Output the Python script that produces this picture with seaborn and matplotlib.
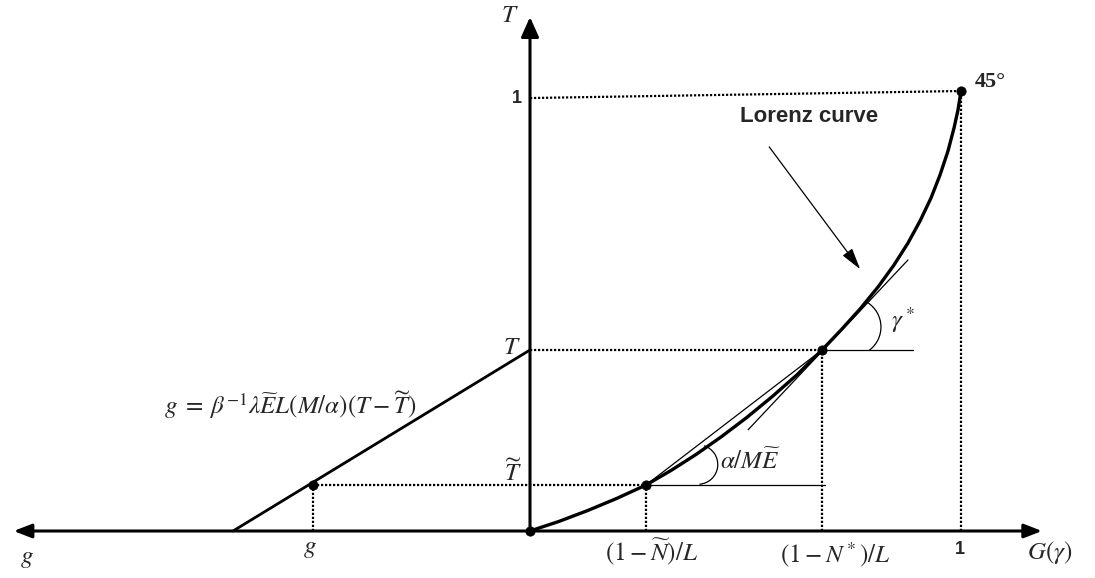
import matplotlib
matplotlib.use("Agg")
import matplotlib.pyplot as plt
import seaborn as sns
import pandas as pd
from matplotlib.patches import Arc

# ---------------- data ----------------
lorenz_G = [0.0, 0.0673, 0.1346, 0.2019, 0.2691, 0.3274, 0.3858, 0.4441, 0.5026,
            0.5608, 0.6193, 0.6775, 0.7216, 0.7657, 0.8074, 0.8445, 0.8770,
            0.9049, 0.9304, 0.9513, 0.9698, 0.9838, 0.9930, 1.0]
lorenz_T = [0.0, 0.0218, 0.0468, 0.0743, 0.1045, 0.1377, 0.1743, 0.2143, 0.2577,
            0.3045, 0.3548, 0.4114, 0.4568, 0.5045, 0.5545, 0.6045, 0.6545,
            0.7045, 0.7568, 0.8091, 0.8636, 0.9159, 0.9568, 1.0]

N_tilde_G, T_tilde = 0.2691, 0.1045   # (1 - N~)/L , T~
N_star_G, T_star = 0.6775, 0.4114     # (1 - N*)/L , T
g_point_G = -0.503                    # g
g_zero_G = -0.689                     # g-line meets axis
top_left_T = 0.984                    # "1" on T axis
tangent_G = [0.506, 0.877]
tangent_T = [0.230, 0.616]
tilde_hline_end = 0.684
star_hline_end = 0.889

sns.set_theme(style="white")
plt.rcParams["mathtext.fontset"] = "stix"
plt.rcParams["font.family"] = ["DejaVu Sans"]

fig = plt.figure(figsize=(10.95, 5.78), dpi=100)
ax = fig.add_axes([0, 0, 1, 1])
ax.set_xlim(-530 / 431, 565 / 431)
ax.set_ylim(-47 / 440, 531 / 440)
ax.axis("off")

K = "black"
dot = dict(color=K, lw=1.6, linestyle=(0, (1, 0.8)))

# axes with arrows
ax.annotate("", xy=(-1.198, 0), xytext=(1.188, 0),
            arrowprops=dict(arrowstyle="<|-|>,head_length=0.9,head_width=0.35", color=K, lw=2.2,
                            shrinkA=0, shrinkB=0))
ax.annotate("", xy=(0, 1.168), xytext=(0, 0),
            arrowprops=dict(arrowstyle="-|>,head_length=1.0,head_width=0.45", color=K, lw=2.2,
                            shrinkA=0, shrinkB=0))

# dotted guide lines
ax.plot([0, 1], [top_left_T, 1], **dot)
ax.plot([1, 1], [0, 1], **dot)
ax.plot([0, N_star_G], [T_star, T_star], **dot)
ax.plot([N_star_G, N_star_G], [0, T_star], **dot)
ax.plot([g_point_G, N_tilde_G], [T_tilde, T_tilde], **dot)
ax.plot([N_tilde_G, N_tilde_G], [0, T_tilde], **dot)
ax.plot([g_point_G, g_point_G], [0, T_tilde], **dot)

# thin lines: tangent, chord, horizontals
ax.plot(tangent_G, tangent_T, color=K, lw=0.9)
ax.plot([N_tilde_G, N_star_G], [T_tilde, T_star], color=K, lw=0.9)
ax.plot([N_tilde_G, tilde_hline_end], [T_tilde, T_tilde], color=K, lw=0.9)
ax.plot([N_star_G, star_hline_end], [T_star, T_star], color=K, lw=0.9)

# Lorenz curve and g-line
curve = pd.DataFrame({"G": lorenz_G, "T": lorenz_T})
sns.lineplot(data=curve, x="G", y="T", sort=False, color=K, lw=2.4, ax=ax)
gline = pd.DataFrame({"G": [g_zero_G, 0], "T": [0, T_star]})
sns.lineplot(data=gline, x="G", y="T", sort=False, color=K, lw=2.0, ax=ax)

# points
pts = pd.DataFrame({"G": [0, N_tilde_G, N_star_G, 1, g_point_G],
                    "T": [0, T_tilde, T_star, 1, T_tilde]})
sns.scatterplot(data=pts, x="G", y="T", color=K, s=45, edgecolor=K, zorder=5, ax=ax)
ax.set_xlabel("")
ax.set_ylabel("")

# angle arcs
ax.add_patch(Arc((0.747, 0.4636), 58 / 431, 58 / 440, theta1=-53, theta2=57, color=K, lw=0.9))
ax.add_patch(Arc((0.390, 0.151), 39.4 / 431, 39.4 / 440, theta1=-86, theta2=72, color=K, lw=0.9))

# Lorenz curve arrow
ax.annotate("", xy=(0.766, 0.595), xytext=(0.555, 0.873),
            arrowprops=dict(arrowstyle="-|>,head_length=1.1,head_width=0.3", color=K, lw=0.9,
                            shrinkA=0, shrinkB=0))

# texts
fs = 18
ax.text(-0.046, 1.173, r"$T$", fontsize=fs, ha="center", va="center")
ax.text(-0.020, 0.984, "1", fontsize=13, fontweight="bold", family="Liberation Sans",
        ha="right", va="center")
ax.text(-0.042, 0.418, r"$T$", fontsize=fs, ha="center", va="center")
ax.text(-0.039, 0.134, r"$\widetilde{T}$", fontsize=fs, ha="center", va="center")
ax.text(-0.557, 0.286, r"$g\;=\;\beta^{-1}\lambda\widetilde{E}L(M/\alpha)(T-\widetilde{T})$",
        fontsize=fs, ha="center", va="center")
ax.text(-1.167, -0.061, r"$g$", fontsize=fs, ha="center", va="center")
ax.text(-0.510, -0.039, r"$g$", fontsize=fs, ha="center", va="center")
ax.text(0.283, -0.048, r"$(1-\widetilde{N})/L$", fontsize=fs, ha="center", va="center")
ax.text(0.708, -0.055, r"$(1-N^*)/L$", fontsize=fs, ha="center", va="center")
ax.text(0.998, -0.041, "1", fontsize=13, fontweight="bold", family="Liberation Sans",
        ha="center", va="center")
ax.text(1.206, -0.048, r"$G(\gamma)$", fontsize=fs, ha="center", va="center")
ax.text(1.032, 1.020, "45°", fontsize=16, fontweight="bold", family="Liberation Serif",
        ha="left", va="center")
ax.text(0.441, 0.157, r"$\alpha/M\widetilde{E}$", fontsize=fs, ha="left", va="center")
ax.text(0.865, 0.480, r"$\gamma^*$", fontsize=fs, ha="center", va="center")
ax.text(0.647, 0.941, "Lorenz curve", fontsize=16, fontweight="bold",
        family="Liberation Sans", ha="center", va="center")

fig.savefig("out.png", dpi=100)
